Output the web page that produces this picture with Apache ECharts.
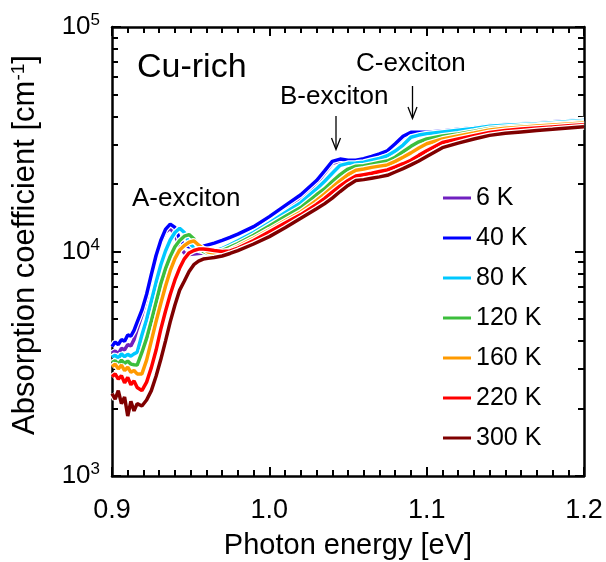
<!DOCTYPE html>
<html>
<head>
<meta charset="utf-8">
<script src="https://cdn.jsdelivr.net/npm/echarts@6/dist/echarts.min.js"></script>
<style>html,body{margin:0;padding:0;background:#fff}#c{width:606px;height:562px}</style>
</head>
<body>
<div id="c"></div>
<script>
// Photon energy [eV]
const energy = [0.900,0.902,0.904,0.906,0.908,0.910,0.912,0.914,0.916,0.919,0.922,0.925,0.928,0.931,0.934,0.937,0.940,0.943,0.946,0.949,0.952,0.955,0.958,0.961,0.965,0.970,0.975,0.980,0.990,1.000,1.010,1.020,1.030,1.035,1.040,1.045,1.050,1.055,1.060,1.065,1.070,1.075,1.080,1.085,1.090,1.095,1.100,1.110,1.120,1.130,1.140,1.150,1.160,1.170,1.180,1.190,1.200];

// Absorption coefficient [cm^-1]
const k6 = [3530,3600,3500,3700,3650,3850,3800,4050,4500,5200,6200,7700,9400,11000,12200,12700,11900,10500,9850,9700,9750,9800,9850,9950,10050,10250,10600,11000,12200,13700,15400,17300,20100,22300,24700,25300,25200,25200,25600,26200,26900,27800,29800,32200,33600,33700,33800,34200,34800,35400,36200,36600,36900,37200,37600,38000,38400];
const k40 = [3770,3950,3850,4050,3980,4250,4200,4450,4850,5480,6450,7900,9600,11200,12550,13250,12800,11350,10650,10500,10500,10500,10550,10700,10900,11200,11550,11950,12900,14300,16000,17900,20700,22800,25200,25800,25500,25500,25900,26500,27200,28100,30200,32600,34000,34000,34000,34400,35000,35600,36400,36800,37100,37400,37800,38200,38600];
const k80 = [3390,3450,3350,3500,3400,3480,3420,3500,3560,4250,4980,6020,7290,8710,10050,11250,12150,12690,12150,10900,10450,10150,10000,10000,10050,10300,10700,11150,12150,13400,14900,16500,19000,20500,22300,24200,24700,24800,25000,25500,26000,26700,28000,29800,32300,33000,33500,34100,34700,35300,36100,36500,36800,37100,37500,37900,38300];
const k120 = [3200,3260,3150,3280,3180,3250,3150,3130,3120,3550,4100,4900,5930,7180,8380,9500,10500,11200,11700,11900,11400,10450,10000,9800,9850,10100,10450,10850,11800,13000,14300,15700,17900,19000,20500,22000,23300,24000,24100,24500,24900,25300,26300,27800,29400,30800,31700,32700,33400,34300,35300,35800,36200,36500,36900,37300,37700];
const k160 = [3070,3150,3000,3120,2950,3050,2900,2950,2850,2850,3280,4000,4870,5870,7000,8210,9290,10160,10630,10990,11150,10690,10290,9950,9850,9850,10150,10550,11450,12500,13700,15000,16900,18000,19300,20700,22000,23000,23300,23700,24000,24300,25200,26300,27500,28900,30200,31700,32700,33700,34800,35400,35800,36200,36600,37000,37400];
const k220 = [2770,2850,2700,2800,2600,2750,2550,2650,2480,2400,2620,3040,3630,4500,5420,6430,7470,8440,9280,9850,10100,10250,10250,10200,10100,10000,10050,10350,11200,12250,13400,14600,16200,17200,18400,19600,20700,21700,22000,22300,22700,23100,23800,24600,25500,26800,28100,30600,31700,32800,33900,34600,35100,35500,35900,36300,36700];
const k300 = [2330,2200,2400,2100,2250,1850,2150,1950,2100,2050,2180,2400,2780,3300,3990,4860,5780,6730,7390,8150,8740,9060,9250,9320,9400,9550,9800,10100,10800,11650,12750,14050,15500,16300,17300,18500,19700,20700,20900,21200,21500,21850,22600,23400,24300,25300,26500,29000,30400,31700,32900,33600,34100,34600,35000,35500,35950];

const seriesNames = ['6 K','40 K','80 K','120 K','160 K','220 K','300 K'];
const seriesValues = [k6,k40,k80,k120,k160,k220,k300];
const seriesColors = ['#7020C0','#0000FF','#00C8FF','#3CBE3C','#FF9A00','#FF0000','#7F0000'];

const yMajor = [1000,10000,100000];
const yMinor = [2000,3000,4000,5000,6000,7000,8000,9000,20000,30000,40000,50000,60000,70000,80000,90000];

const FONT = 'Liberation Sans, Arial, sans-serif';
const chart = echarts.init(document.getElementById('c'), null, {renderer:'canvas'});

const gridRect = {left:112, right:22, top:27, bottom:86, outerBoundsMode:'none', containLabel:false};
const yBase = {type:'log', logBase:10, min:1000, max:100000, splitLine:{show:false}};
const lineStyleAxis = {color:'#000', width:2.5};
const majorTick = vals => ({show:true, inside:true, length:9, lineStyle:{width:2, color:'#000'}, customValues:vals});
const minorTickY = vals => ({show:true, inside:true, length:6, lineStyle:{width:2, color:'#000'}, customValues:vals});

const series = [];
seriesNames.forEach((name, i) => {
  const data = energy.map((x, j) => [x, seriesValues[i][j]]);
  series.push({
    name: '_halo' + i, type:'line', xAxisIndex:0, yAxisIndex:0, data, showSymbol:false, symbol:'none', silent:true,
    lineStyle:{color:'#ffffff', width:6}, z:2
  });
  series.push({
    name, type:'line', xAxisIndex:0, yAxisIndex:0, data, showSymbol:false, symbol:'none',
    itemStyle:{color:seriesColors[i]},
    lineStyle:{color:seriesColors[i], width:3.5}, z:2
  });
});

const option = {
  animation:false,
  backgroundColor:'#fff',
  grid:[Object.assign({}, gridRect), Object.assign({}, gridRect)],
  xAxis:[
    {type:'value', gridIndex:0, position:'bottom', min:0.9, max:1.2, interval:0.1,
     axisLine:{show:true, onZero:false, lineStyle:lineStyleAxis},
     axisTick:{show:true, inside:true, length:9, lineStyle:{width:2, color:'#000'}},
     minorTick:{show:true, splitNumber:10, length:6, lineStyle:{width:2, color:'#000'}},
     axisLabel:{color:'#000', fontSize:27, fontFamily:FONT, margin:21, formatter:v=>v.toFixed(1)},
     splitLine:{show:false},
     name:'Photon energy [eV]', nameLocation:'middle', nameGap:55,
     nameTextStyle:{color:'#000', fontSize:29, fontFamily:FONT}},
    {type:'value', gridIndex:0, position:'top', min:0.9, max:1.2, interval:0.1,
     axisLine:{show:true, onZero:false, lineStyle:lineStyleAxis},
     axisTick:{show:true, inside:true, length:9, lineStyle:{width:2, color:'#000'}},
     minorTick:{show:true, splitNumber:10, length:6, lineStyle:{width:2, color:'#000'}},
     axisLabel:{show:false}, splitLine:{show:false}},
    {type:'value', gridIndex:1, show:false, min:0.9, max:1.2}
  ],
  yAxis:[
    Object.assign({}, yBase, {gridIndex:0, position:'left',
      axisLine:{show:true, lineStyle:lineStyleAxis},
      axisTick:majorTick(yMajor),
      axisLabel:{customValues:yMajor, margin:12, color:'#000', fontFamily:FONT,
        formatter:v=>'{b|10}{s|' + Math.round(Math.log10(v)) + '}',
        rich:{b:{fontSize:26, fontFamily:FONT, color:'#000', lineHeight:30},
              s:{fontSize:17, fontFamily:FONT, color:'#000', verticalAlign:'top', lineHeight:20}}}}),
    Object.assign({}, yBase, {gridIndex:0, position:'right',
      axisLine:{show:true, lineStyle:lineStyleAxis},
      axisTick:majorTick(yMajor),
      axisLabel:{show:false}}),
    Object.assign({}, yBase, {gridIndex:1, position:'left',
      axisLine:{show:false},
      axisTick:minorTickY(yMinor),
      axisLabel:{show:false}}),
    Object.assign({}, yBase, {gridIndex:1, position:'right',
      axisLine:{show:false},
      axisTick:minorTickY(yMinor),
      axisLabel:{show:false}})
  ],
  legend:{
    data:seriesNames, orient:'vertical', left:438, top:180,
    icon:'rect', itemWidth:28, itemHeight:3, itemGap:14,
    textStyle:{color:'#000', fontSize:25, fontFamily:FONT, lineHeight:26}
  },
  graphic:[
    {type:'text', x:137, y:68, style:{text:'Cu-rich', fill:'#000', font:'34px ' + FONT, align:'left', verticalAlign:'middle'}},
    {type:'text', x:132, y:198.5, style:{text:'A-exciton', fill:'#000', font:'26px ' + FONT, align:'left', verticalAlign:'middle'}},
    {type:'text', x:280, y:97, style:{text:'B-exciton', fill:'#000', font:'26px ' + FONT, align:'left', verticalAlign:'middle'}},
    {type:'text', x:356, y:63.5, style:{text:'C-exciton', fill:'#000', font:'26px ' + FONT, align:'left', verticalAlign:'middle'}},
    {type:'line', shape:{x1:336, y1:116, x2:336, y2:149}, style:{stroke:'#000', lineWidth:1.3}},
    {type:'polyline', shape:{points:[[331.5,138],[336,149.5],[340.5,138]]}, style:{stroke:'#000', lineWidth:1.3, fill:null}},
    {type:'line', shape:{x1:412.5, y1:86, x2:412.5, y2:118}, style:{stroke:'#000', lineWidth:1.3}},
    {type:'polyline', shape:{points:[[408,107],[412.5,118.5],[417,107]]}, style:{stroke:'#000', lineWidth:1.3, fill:null}},
    {type:'text', x:25, y:245, rotation:Math.PI/2,
     style:{text:'{n|Absorption coefficient [cm}{s|-1}{n|]}', align:'center', verticalAlign:'middle',
       rich:{n:{fontSize:31, fontFamily:FONT, fill:'#000', lineHeight:32},
             s:{fontSize:19, fontFamily:FONT, fill:'#000', verticalAlign:'top', lineHeight:20}}}}
  ],
  series
};
chart.setOption(option);
</script>
</body>
</html>
